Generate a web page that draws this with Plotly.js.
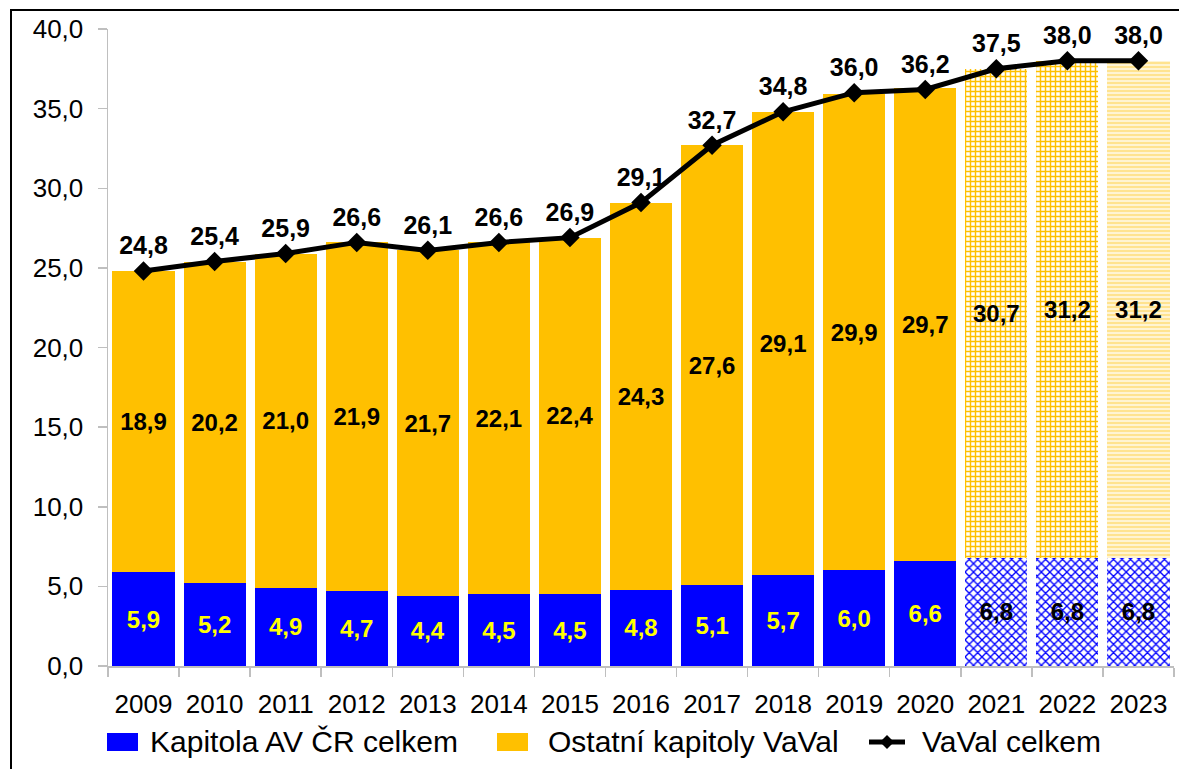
<!DOCTYPE html>
<html>
<head>
<meta charset="utf-8">
<script src="https://cdn.plot.ly/plotly-3.0.1.min.js"></script>
<style>
html,body{margin:0;padding:0;background:#fff;overflow:hidden;}
#chart{width:1179px;height:769px;position:absolute;left:0;top:0;}
#frame{position:absolute;left:10px;top:9px;width:1400px;height:1000px;border:2px solid #000;pointer-events:none;}
</style>
</head>
<body>
<div id="chart"></div>
<div id="frame"></div>
<script>
const years = ['2009','2010','2011','2012','2013','2014','2015','2016','2017','2018','2019','2020','2021','2022','2023'];
const kapitolaAV = [5.9,5.2,4.9,4.7,4.4,4.5,4.5,4.8,5.1,5.7,6.0,6.6,6.8,6.8,6.8];
const ostatni = [18.9,20.2,21.0,21.9,21.7,22.1,22.4,24.3,27.6,29.1,29.9,29.7,30.7,31.2,31.2];
const celkem = [24.8,25.4,25.9,26.6,26.1,26.6,26.9,29.1,32.7,34.8,36.0,36.2,37.5,38.0,38.0];
const seriesNames = ['Kapitola AV ČR celkem','Ostatní kapitoly VaVal','VaVal celkem'];
const planned = ['','','','','','','','','','','','','x','x','y']; // 2021-2023 drawn with patterns

const BLUE = '#0000FF', GOLD = '#FFC000', PALE = '#FFE38F';
const labelFont = '"Liberation Sans", Arial, sans-serif';
const baseFont = '"Liberation Sans", Arial, sans-serif';

// plot area geometry (pixels) for positioning the hand-made legend
const M = {l: 108, r: 5, t: 29, b: 103};
const PW = 1179 - M.l - M.r, PH = 769 - M.t - M.b;
const px = v => (v - M.l) / PW;
const py = v => (769 - M.b - v) / PH;

const traces = [
  {
    type: 'bar', name: seriesNames[0], x: years, y: kapitolaAV, showlegend: false,
    marker: {
      color: planned.map(p => BLUE),
      line: {width: 0},
      pattern: {
        shape: planned.map(p => p ? 'x' : ''),
        size: 6, solidity: 0.4, fillmode: 'replace'
      }
    },
    texttemplate: '%{y:.1f}', textposition: 'inside', insidetextanchor: 'middle',
    textangle: 0, constraintext: 'none',
    textfont: {family: labelFont, size: 24, weight: 'bold', color: planned.map(p => p ? '#000000' : '#FFFF00')},
    hoverinfo: 'x+y'
  },
  {
    type: 'bar', name: seriesNames[1], x: years, y: ostatni, showlegend: false,
    marker: {
      color: planned.map(p => p === 'y' ? PALE : GOLD),
      line: {width: 0},
      pattern: {
        shape: planned.map(p => p === 'x' ? '+' : (p === 'y' ? '-' : '')),
        size: planned.map(p => p === 'y' ? 4 : 5),
        solidity: planned.map(p => p === 'y' ? 0.7 : 0.5),
        fillmode: 'replace'
      }
    },
    texttemplate: '%{y:.1f}', textposition: 'inside', insidetextanchor: 'middle',
    textangle: 0, constraintext: 'none',
    textfont: {family: labelFont, size: 24, weight: 'bold', color: '#000000'},
    hoverinfo: 'x+y'
  },
  {
    type: 'scatter', mode: 'lines+markers+text', name: seriesNames[2], x: years, y: celkem, showlegend: false,
    line: {color: '#000000', width: 5},
    marker: {symbol: 'diamond', size: 15, color: '#000000'},
    texttemplate: '%{y:.1f}', textposition: 'top center',
    textfont: {family: labelFont, size: 25, weight: 'bold', color: '#000000'},
    cliponaxis: false,
    hoverinfo: 'x+y'
  }
];

// hand-made legend (shapes for keys, annotations for text)
const legY = 742;
const legendShapes = [
  {type: 'rect', xref: 'paper', yref: 'paper', x0: px(107), x1: px(138), y0: py(733), y1: py(751), fillcolor: BLUE, line: {width: 0}},
  {type: 'rect', xref: 'paper', yref: 'paper', x0: px(497), x1: px(528), y0: py(733), y1: py(751), fillcolor: GOLD, line: {width: 0}},
  {type: 'line', xref: 'paper', yref: 'paper', x0: px(869), x1: px(905), y0: py(legY), y1: py(legY), line: {color: '#000', width: 5}},
  {type: 'path', xref: 'paper', yref: 'paper', fillcolor: '#000', line: {width: 0},
   path: `M ${px(887)} ${py(legY-7)} L ${px(894)} ${py(legY)} L ${px(887)} ${py(legY+7)} L ${px(880)} ${py(legY)} Z`}
];
const legendTextX = [148, 546, 920];
const legendAnnotations = seriesNames.map((n, i) => ({
  xref: 'paper', yref: 'paper', x: px(legendTextX[i]), y: py(legY), xanchor: 'left', yanchor: 'middle',
  text: n, showarrow: false, font: {family: baseFont, size: 30, color: '#000'}
}));

const layout = {
  width: 1179, height: 769,
  margin: M,
  paper_bgcolor: 'rgba(255,255,255,0)', plot_bgcolor: '#FFFFFF',
  separators: ', ',
  barmode: 'stack', bargap: 0.125,
  font: {family: baseFont, color: '#000000'},
  showlegend: false,
  shapes: legendShapes,
  annotations: legendAnnotations,
  xaxis: {
    type: 'category', range: [-0.5, years.length - 0.5],
    showline: true, linecolor: '#BFBFBF', linewidth: 1.5,
    ticks: 'outside', tickson: 'boundaries', ticklen: 9, tickcolor: '#BFBFBF', tickwidth: 1.5,
    tickangle: 0, ticklabelstandoff: 14,
    tickfont: {family: baseFont, size: 26, color: '#000000'},
    showgrid: false, zeroline: false, fixedrange: true
  },
  yaxis: {
    range: [0, 40], dtick: 5, tickformat: '.1f',
    showline: true, linecolor: '#BFBFBF', linewidth: 1.5,
    ticks: 'outside', ticklen: 9, tickcolor: '#BFBFBF', tickwidth: 1.5,
    ticklabelstandoff: 9,
    tickfont: {family: baseFont, size: 26, color: '#000000'},
    showgrid: false, zeroline: false, fixedrange: true
  }
};

Plotly.newPlot('chart', traces, layout, {displayModeBar: false, staticPlot: true});
</script>
</body>
</html>
